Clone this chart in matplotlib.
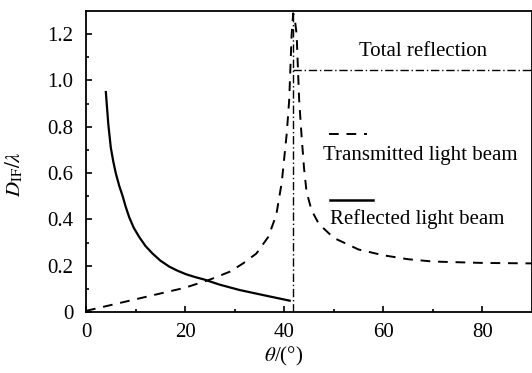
import numpy as np
import matplotlib.pyplot as plt

plt.rcParams['font.family'] = 'Liberation Serif'
plt.rcParams['mathtext.fontset'] = 'stix'

# reflected light beam (solid)
refl_theta = [4, 4.5, 5, 5.5, 6, 6.7, 7.4, 8.0, 8.7, 9.6, 10.7, 12.0, 13.4,
              15.0, 16.8, 18.5, 20.2, 22.0, 23.9, 27.0, 31.0, 36.0, 41.1]
refl_shift = [0.95, 0.81, 0.71, 0.65, 0.60, 0.545, 0.50, 0.455, 0.41, 0.365,
              0.325, 0.285, 0.253, 0.222, 0.196, 0.178, 0.163, 0.151, 0.14,
              0.118, 0.095, 0.072, 0.049]

# transmitted light beam (dashed)
trans_theta = [0, 5, 10, 15, 20, 25, 29, 31.7, 34.4, 36.8, 38.4, 39.5, 40.5,
               41.0, 41.5, 41.8, 42.1, 42.5, 43.0, 43.5, 44.0, 44.5, 45.5,
               47.0, 50.0, 55.0, 60.0, 65.0, 70.0, 80.0, 90.0]
trans_shift = [0.005, 0.03, 0.055, 0.08, 0.105, 0.14, 0.174, 0.21, 0.253, 0.325,
               0.42, 0.56, 0.77, 0.915, 1.2, 1.29, 1.27, 1.2, 0.92, 0.76, 0.62,
               0.52, 0.44, 0.38, 0.32, 0.27, 0.245, 0.228, 0.218, 0.212, 0.21]

critical_angle = 41.8
total_level = 1.045

fig = plt.figure(figsize=(5.32, 3.73), dpi=100)
ax = fig.add_axes([0.1617, 0.1635, 0.8383, 0.807])

ax.plot(refl_theta, refl_shift, color='black', lw=1.6)
ax.plot(trans_theta, trans_shift, color='black', lw=1.4, ls=(0, (5, 4)))
ax.axvline(critical_angle, color='black', lw=1.0, ls=(0, (6, 2, 1, 2)))
ax.hlines(total_level, critical_angle, 90, color='black', lw=1.0, ls=(0, (6, 2, 1, 2)))

ax.set_xlim(0, 90)
ax.set_ylim(0, 1.3)
ax.set_xticks([0, 20, 40, 60, 80])
ax.set_xticks([10, 30, 50, 70], minor=True)
ax.set_yticks([0, 0.2, 0.4, 0.6, 0.8, 1.0, 1.2])
ax.set_yticks([0.1, 0.3, 0.5, 0.7, 0.9, 1.1], minor=True)
ax.set_yticklabels(['0', '0.2', '0.4', '0.6', '0.8', '1.0', '1.2'])
ax.tick_params(which='both', direction='in', labelsize=15, width=1.2)
ax.tick_params(which='major', length=4)
ax.tick_params(which='minor', length=2.5)
ax.tick_params(axis='y', pad=9)
ax.tick_params(axis='x', pad=8)
for s in ax.spines.values():
    s.set_linewidth(1.3)

ax.set_xlabel(r'$\theta$/(°)', fontsize=15)
ax.set_ylabel(r'$D_{\mathrm{IF}}/\lambda$', fontsize=15)
ax.xaxis.set_label_coords(0.443, -0.108)
ax.yaxis.set_label_coords(-0.137, 0.46)

ax.text(0.755, 0.864, 'Total reflection', transform=ax.transAxes, fontsize=15,
        ha='center', va='center')
ax.plot([0.545, 0.63], [0.59, 0.59], transform=ax.transAxes, color='black',
        lw=1.4, ls=(0, (5, 4)))
ax.text(0.532, 0.52, 'Transmitted light beam', transform=ax.transAxes,
        fontsize=15, ha='left', va='center')
ax.plot([0.547, 0.643], [0.372, 0.372], transform=ax.transAxes, color='black',
        lw=1.8)
ax.text(0.547, 0.31, 'Reflected light beam', transform=ax.transAxes,
        fontsize=15, ha='left', va='center')

fig.savefig('out.png', dpi=100)
